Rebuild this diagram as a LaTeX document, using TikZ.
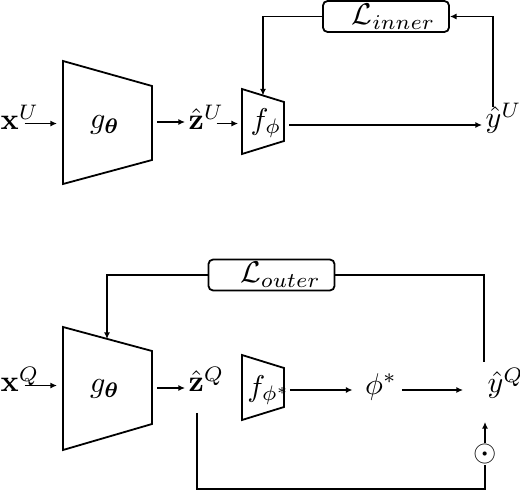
\documentclass[tikz,border=0pt]{standalone}
\usepackage{amsmath,bm}
\usetikzlibrary{arrows.meta,calc}
\begin{document}
\begin{tikzpicture}[x=0.3333pt,y=-0.3333pt,
  trap/.style={draw,line width=0.6pt,line join=miter},
  arr/.style={-{Latex[length=2.2pt,width=2pt]},line width=0.6pt},
  fb/.style={line width=0.45pt},
  lbl/.style={inner sep=0pt},
  lbox/.style={draw,rounded corners=1.5pt,line width=0.6pt,minimum width=42pt,minimum height=10.3pt,inner sep=0pt}]
\useasboundingbox (0,0) rectangle (520,492);

% ---------- top ----------
\draw[trap] (63,61) -- (152,86) -- (152,160) -- (63,184) -- cycle;
\node[lbl] (gU) at (105,125) {$g_{\bm\theta}$};
\coordinate (gUin) at (63,122);
\coordinate (gUout) at (152,122);
\draw[trap] (242,89) -- (284,102) -- (284,141) -- (242,154) -- cycle;
\node[lbl] (fU) at (266,123) {$f_{\phi}$};
\coordinate (fUin) at (242,122);
\coordinate (fUout) at (284,125);
\coordinate (fUtop) at (263,95.5);

\node[lbl,anchor=base west] (xU) at (0,130) {$\mathbf{x}^U$};
\node[lbl,anchor=base west] (zU) at (188,130) {$\hat{\mathbf{z}}^U$};
\node[lbl,anchor=base west] (yU) at (485,128) {$\hat{y}^U$};
\node[lbox] (LU) at (386,16.5) {\hspace*{5pt}$\mathcal{L}_{inner}$};
\coordinate (yUt) at (493,107);

\draw[arr,shorten <=-5pt,shorten >=2pt] (xU.mid east) -- (xU.mid east -| gUin);
\draw[arr,shorten <=1.7pt,shorten >=1pt] (gUout) -- (gUout -| zU.west);
\draw[arr,shorten <=-2.7pt,shorten >=1.3pt] (zU.mid east) -- (zU.mid east -| fUin);
\draw[arr,shorten <=1.7pt,shorten >=1pt] (fUout) -- (fUout -| yU.west);
\draw[arr,fb] (LU.west) -| (fUtop);
\draw[arr,fb] (yUt) |- (LU.east);

% ---------- bottom ----------
\draw[trap] (63,327) -- (152,351) -- (152,424) -- (63,450) -- cycle;
\node[lbl] (gQ) at (105,389) {$g_{\bm\theta}$};
\coordinate (gQin) at (63,388);
\coordinate (gQout) at (152,388);
\coordinate (gQtop) at (107,339);
\draw[trap] (242,355) -- (284,368) -- (284,407) -- (242,420) -- cycle;
\node[lbl] (fQ) at (269,390) {$f_{\phi^*}$};
\coordinate (fQout) at (284,390);

\node[lbl,anchor=base west] (xQ) at (0,392) {$\mathbf{x}^Q$};
\node[lbl,anchor=base west] (zQ) at (188,392) {$\hat{\mathbf{z}}^Q$};
\node[lbl] (phi) at (381,387) {$\phi^*$};
\node[lbl,anchor=base west] (yQ) at (487,393) {$\hat{y}^Q$};
\node[lbl] (dot) at (485,454) {$\odot$};
\node[lbox] (LQ) at (271.5,275) {\hspace*{6pt}$\mathcal{L}_{outer}$};
\coordinate (q1) at (484,275);
\coordinate (q2) at (484,362);
\coordinate (zQb) at (197,413);
\coordinate (b1) at (197,489);
\coordinate (b2) at (485,489);
\coordinate (dtop) at (485,422);

\draw[arr,shorten <=-5pt,shorten >=2pt] (xQ.mid east) -- (xQ.mid east -| gQin);
\draw[arr,shorten <=1.7pt,shorten >=1pt] (gQout) -- (gQout -| zQ.west);
\draw[arr,shorten <=2pt,shorten >=4pt] (fQout) -- (fQout -| phi.west);
\draw[arr,shorten <=1.5pt,shorten >=8pt] (phi.east |- fQout) -- (fQout -| yQ.west);
\draw[arr,fb] (LQ.west) -| (gQtop);
\draw[fb] (LQ.east) -- (q1) -- (q2);
\draw[arr] (dot.north) -- (dtop);
\draw[line width=0.6pt] (zQb) -- (b1) -- (b2) -- (dot.south);
\end{tikzpicture}
\end{document}
